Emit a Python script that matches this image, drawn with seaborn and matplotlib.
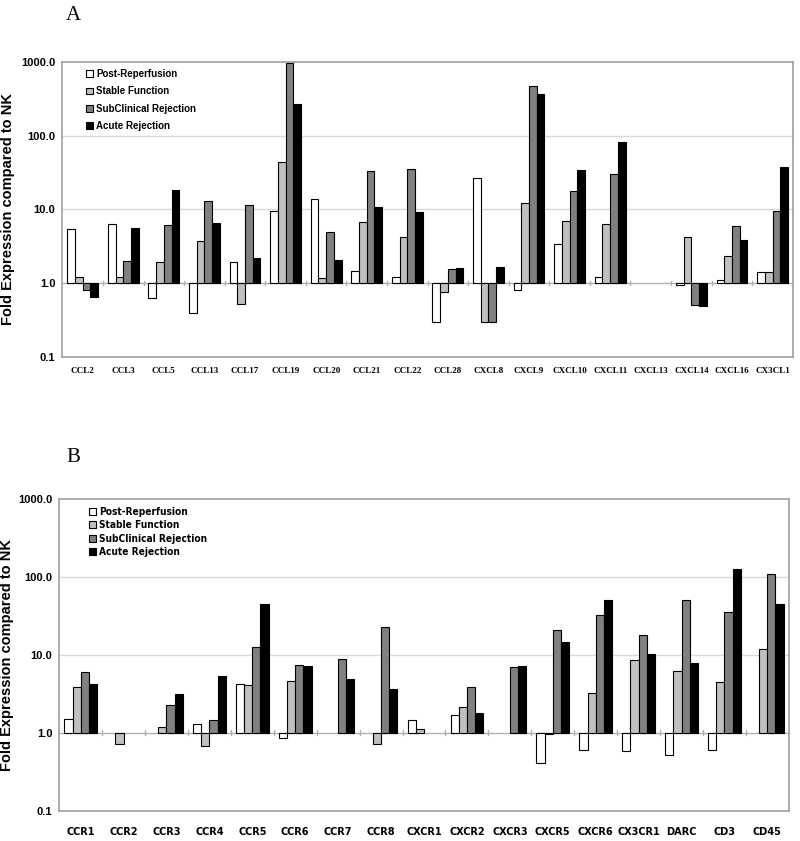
import numpy as np
import pandas as pd
import matplotlib.pyplot as plt
import seaborn as sns

sns.set_style("white")
plt.rcParams["text.color"] = "black"
plt.rcParams["axes.labelcolor"] = "black"
plt.rcParams["xtick.labelcolor"] = "black"
plt.rcParams["ytick.labelcolor"] = "black"

# =========================
# DATA (fold expression vs NK)
# =========================

series = ["Post-Reperfusion", "Stable Function", "SubClinical Rejection", "Acute Rejection"]
colors = ["#ffffff", "#c0c0c0", "#808080", "#000000"]
nan = np.nan

genes_a = ["CCL2", "CCL3", "CCL5", "CCL13", "CCL17", "CCL19", "CCL20", "CCL21", "CCL22",
           "CCL28", "CXCL8", "CXCL9", "CXCL10", "CXCL11", "CXCL13", "CXCL14", "CXCL16", "CX3CL1"]
post_a = [5.4, 6.4, 0.64, 0.39, 1.92, 9.5, 14.0, 1.45, 1.2, 0.30, 27.0, 0.80, 3.4, 1.22, nan, 0.94, 1.11, 1.42]
stable_a = [1.2, 1.2, 1.92, 3.7, 0.53, 44.0, 1.17, 6.7, 4.24, 0.76, 0.30, 12.4, 7.0, 6.4, nan, 4.24, 2.34, 1.42]
subcl_a = [0.80, 2.03, 6.2, 12.9, 11.3, 964.0, 4.96, 33.6, 35.4, 1.55, 0.30, 475.0, 17.6, 30.3, nan, 0.51, 6.04, 9.4]
acute_a = [0.66, 5.56, 18.4, 6.6, 2.2, 268.0, 2.07, 10.9, 9.2, 1.6, 1.68, 363.0, 34.6, 81.0, nan, 0.49, 3.86, 38.0]

genes_b = ["CCR1", "CCR2", "CCR3", "CCR4", "CCR5", "CCR6", "CCR7", "CCR8", "CXCR1",
           "CXCR2", "CXCR3", "CXCR5", "CXCR6", "CX3CR1", "DARC", "CD3", "CD45"]
post_b = [1.51, nan, nan, 1.30, 4.24, 0.86, nan, nan, 1.44, 1.67, nan, 0.41, 0.61, 0.58, 0.52, 0.61, nan]
stable_b = [3.92, 0.72, 1.17, 0.68, 4.08, 4.68, nan, 0.72, 1.13, 2.15, nan, 0.96, 3.28, 8.6, 6.28, 4.5, 11.9]
subcl_b = [6.04, nan, 2.3, 1.44, 12.7, 7.42, 8.95, 22.5, nan, 3.92, 6.93, 20.8, 32.1, 18.2, 51.0, 35.8, 108.0]
acute_b = [4.24, nan, 3.19, 5.42, 44.4, 7.2, 4.9, 3.66, nan, 1.79, 7.2, 14.8, 51.0, 10.3, 7.8, 125.0, 44.4]

ytick_vals = [0.1, 1.0, 10.0, 100.0, 1000.0]
ytick_labels = ["0.1", "1.0", "10.0", "100.0", "1000.0"]

SANS = ["Liberation Sans", "DejaVu Sans"]
SERIF = ["Liberation Serif", "DejaVu Serif"]


def long_frame(genes, cols):
    rows = []
    for name, vals in zip(series, cols):
        for g, v in zip(genes, vals):
            rows.append({"gene": g, "group": name, "value": v})
    df = pd.DataFrame(rows)
    # bars grow from 1.0, so plot log10 of the fold change
    df["logv"] = np.log10(df["value"])
    return df


def draw_panel(ax, df, genes, xfont, legend_kw, label_x):
    sns.barplot(
        data=df, x="gene", y="logv", hue="group",
        order=genes, hue_order=series, palette=colors,
        width=0.76, edgecolor="black", linewidth=0.8,
        errorbar=None, ax=ax, zorder=3
    )
    ax.set_ylim(-1, 3)
    ax.set_xlim(-0.5, len(genes) - 0.5)
    ax.set_yticks(np.log10(ytick_vals))
    ax.set_yticklabels(ytick_labels, fontsize=8, fontweight="bold", family=SANS)
    for lv in [1, 2]:
        ax.axhline(lv, color="#d9d9d9", lw=1, zorder=1)
    ax.axhline(0, color="#b0b0b0", lw=1, zorder=2)
    for xb in np.arange(0.5, len(genes) - 1, 1.0):
        ax.plot([xb, xb], [-0.03, 0.03], color="#b0b0b0", lw=1, zorder=2)
    for s in ax.spines.values():
        s.set_color("#a0a0a0")
        s.set_linewidth(1.2)
    ax.tick_params(axis="y", length=3, color="#a0a0a0", pad=2)
    ax.tick_params(axis="x", length=0)
    ax.set_xticks(range(len(genes)))
    ax.set_xticklabels(genes, **xfont)
    ax.set_xlabel("")
    ax.set_ylabel("Fold Expression compared to NK", fontsize=10.5, fontweight="bold", family=SANS)
    ax.yaxis.set_label_coords(label_x, 0.5)
    handles, labels = ax.get_legend_handles_labels()
    ax.legend(handles, labels, loc="upper left", frameon=False,
              handlelength=0.7, handleheight=0.7, handletextpad=0.3,
              borderaxespad=0.2, **legend_kw)


fig = plt.figure(figsize=(8, 8.41), dpi=100)

ax_a = fig.add_axes([0.078, 0.5755, 0.913, 0.351])
ax_b = fig.add_axes([0.074, 0.036, 0.912, 0.3707])

df_a = long_frame(genes_a, [post_a, stable_a, subcl_a, acute_a])
df_b = long_frame(genes_b, [post_b, stable_b, subcl_b, acute_b])

draw_panel(
    ax_a, df_a, genes_a,
    dict(fontsize=6.5, fontweight="bold", family=SERIF),
    dict(bbox_to_anchor=(0.025, 0.995), labelspacing=0.75,
         prop={"family": SANS, "weight": "bold", "size": 7}),
    label_x=-0.065,
)
ax_a.tick_params(axis="x", pad=7)

draw_panel(
    ax_b, df_b, genes_b,
    dict(fontsize=7.8, fontweight="bold", family=["DejaVu Sans"], fontstretch="condensed"),
    dict(bbox_to_anchor=(0.033, 0.995), labelspacing=0.35,
         prop={"family": ["DejaVu Sans"], "weight": "bold", "size": 7.3, "stretch": "condensed"}),
    label_x=-0.062,
)
ax_b.tick_params(axis="x", pad=12)

fig.text(0.092, 0.982, "A", fontsize=15, family=SERIF, va="center", ha="center")
fig.text(0.092, 0.456, "B", fontsize=15, family=SERIF, va="center", ha="center")

fig.savefig("out.png", dpi=100)
